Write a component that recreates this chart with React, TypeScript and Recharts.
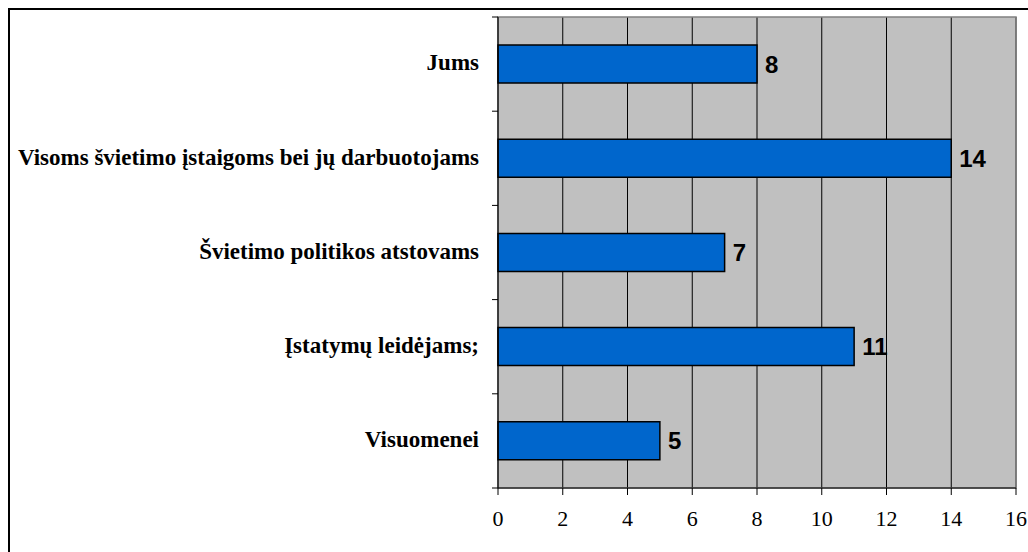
import { BarChart, Bar, XAxis, YAxis, CartesianGrid, LabelList, ReferenceArea } from "recharts";

const categories = [
  "Jums",
  "Visoms švietimo įstaigoms bei jų darbuotojams",
  "Švietimo politikos atstovams",
  "Įstatymų leidėjams;",
  "Visuomenei",
];
const values = [8, 14, 7, 11, 5];
const xTicks = [0, 2, 4, 6, 8, 10, 12, 14, 16];

const data = categories.map((name, i) => ({ name, value: values[i] }));

const W = 1018;
const H = 542;
const margin = { top: 7, right: 12, bottom: 34, left: 0 };
const xAxisH = 30;
const yAxisW = 488;
const band = (H - margin.top - margin.bottom - xAxisH) / categories.length;
const serif = "'Liberation Serif', 'Times New Roman', serif";

function CategoryTick(props: any) {
  const { x, y, payload, index } = props;
  const axisX = margin.left + yAxisW;
  return (
    <g>
      <line x1={axisX - 6} x2={axisX} y1={y - band / 2} y2={y - band / 2} stroke="#000" />
      {index === categories.length - 1 && (
        <line x1={axisX - 6} x2={axisX} y1={y + band / 2} y2={y + band / 2} stroke="#000" />
      )}
      <text x={x} y={y} dy="0.27em" textAnchor="end" fill="#000" fontFamily={serif} fontWeight="bold" fontSize={23}>
        {payload.value}
      </text>
    </g>
  );
}

export default function App() {
  return (
    <div
      style={{
        position: "fixed",
        top: 8,
        left: 8,
        width: 1020,
        height: 544,
        boxSizing: "border-box",
        borderTop: "2px solid #000",
        borderLeft: "2px solid #000",
        background: "#fff",
      }}
    >
      <BarChart width={W} height={H} data={data} layout="vertical" margin={margin}>
        <CartesianGrid horizontal={false} stroke="#000" fill="#C0C0C0" fillOpacity={1} />
        <XAxis
          type="number"
          domain={[0, 16]}
          ticks={xTicks}
          height={xAxisH}
          tickSize={7}
          tickMargin={15}
          axisLine={{ stroke: "#000" }}
          tickLine={{ stroke: "#000" }}
          tick={{ fill: "#000", fontSize: 22, fontFamily: serif }}
        />
        <YAxis
          type="category"
          dataKey="name"
          width={yAxisW}
          tickSize={0}
          tickMargin={19}
          tickLine={false}
          axisLine={{ stroke: "#000" }}
          tick={<CategoryTick />}
          interval={0}
        />
        <ReferenceArea x1={0} x2={16} fill="none" stroke="#808080" strokeWidth={1.5} ifOverflow="visible" />
        <Bar dataKey="value" fill="#0066CC" stroke="#000" strokeWidth={1.5} barSize={38} isAnimationActive={false}>
          <LabelList
            dataKey="value"
            position="right"
            offset={8}
            fill="#000"
            fontSize={24}
            fontWeight="bold"
            fontFamily="'Liberation Sans', Arial, sans-serif"
          />
        </Bar>
      </BarChart>
    </div>
  );
}
